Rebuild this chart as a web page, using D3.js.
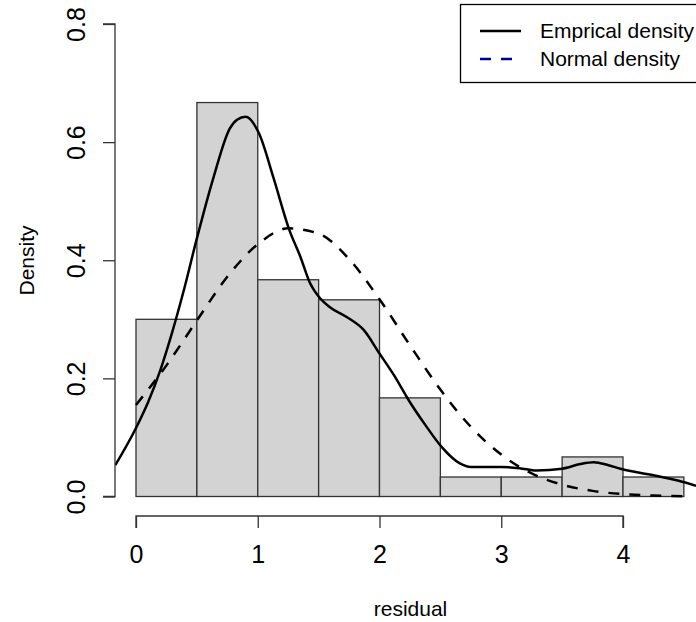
<!DOCTYPE html>
<html>
<head>
<meta charset="utf-8">
<script src="https://d3js.org/d3.v7.min.js"></script>
<style>
  body { margin: 0; background: #fff; }
  text { font-family: "Liberation Sans", Arial, sans-serif; }
</style>
</head>
<body>
<div id="main"></div>
<script>
// histogram bins (residual) and their densities
const binEdges = [0, 0.5, 1, 1.5, 2, 2.5, 3, 3.5, 4, 4.5];
const binDensity = [0.300, 0.667, 0.367, 0.333, 0.167, 0.033, 0.033, 0.067, 0.033];

const empX = [-0.17, 0, 0.1, 0.2, 0.3, 0.39, 0.5, 0.635, 0.77, 0.83, 0.9, 1.01, 1.13, 1.26, 1.35, 1.43, 1.51, 1.59, 1.73, 1.87, 2.0, 2.12, 2.24, 2.38, 2.51, 2.66, 2.75, 3.0, 3.15, 3.29, 3.5, 3.65, 3.76, 3.88, 3.98, 4.25, 4.45, 4.6];
const empY = [0.053, 0.116, 0.16, 0.214, 0.28, 0.347, 0.437, 0.539, 0.623, 0.638, 0.643, 0.615, 0.539, 0.451, 0.406, 0.361, 0.336, 0.321, 0.304, 0.282, 0.242, 0.205, 0.163, 0.12, 0.084, 0.056, 0.050, 0.050, 0.048, 0.044, 0.047, 0.055, 0.058, 0.053, 0.047, 0.036, 0.027, 0.018];

// normal density curve
const normX = [0, 0.25, 0.5, 0.75, 1, 1.25, 1.5, 1.75, 2, 2.25, 2.5, 2.75, 3, 3.25, 3.5, 3.75, 4, 4.25, 4.5];
const normY = [0.155, 0.222, 0.298, 0.372, 0.427, 0.454, 0.445, 0.402, 0.334, 0.256, 0.181, 0.118, 0.071, 0.039, 0.020, 0.0095, 0.004, 0.0016, 0.0006];

const xTicks = [0, 1, 2, 3, 4];
const yTicks = [0, 0.2, 0.4, 0.6, 0.8];
const yTickLabels = ["0.0", "0.2", "0.4", "0.6", "0.8"];
const legendLabels = ["Emprical density", "Normal density"];

const ctx = {width: 696,
  height: 622,
  left: 115, right: 706, top: 5, bottom: 516,
  fontSize: 21,
  tickFontSize: 25
};

function createViz(){
  let svg = d3.select("#main")
    .append("svg")
    .attr("width", ctx.width)
    .attr("height", ctx.height);

  let x = d3.scaleLinear().domain([0, 4]).range([136, 623]);
  let y = d3.scaleLinear().domain([0, 0.8]).range([496.5, 24]);

  svg.append("clipPath").attr("id", "plotClip")
    .append("rect")
    .attr("x", ctx.left).attr("y", ctx.top)
    .attr("width", ctx.right - ctx.left).attr("height", ctx.bottom - ctx.top);

  // bars
  svg.append("g")
    .selectAll("rect")
    .data(binDensity)
    .enter().append("rect")
    .attr("x", (d, i) => x(binEdges[i]))
    .attr("y", d => y(d))
    .attr("width", (d, i) => x(binEdges[i + 1]) - x(binEdges[i]))
    .attr("height", d => y(0) - y(d))
    .attr("fill", "#d3d3d3")
    .attr("stroke", "#333")
    .attr("stroke-width", 1.3);

  let plot = svg.append("g").attr("clip-path", "url(#plotClip)");

  let empLine = d3.line()
    .x(i => x(empX[i]))
    .y(i => y(empY[i]))
    .curve(d3.curveMonotoneX);
  plot.append("path")
    .attr("d", empLine(d3.range(empX.length)))
    .attr("fill", "none")
    .attr("stroke", "#000")
    .attr("stroke-width", 2.5);

  let normLine = d3.line()
    .x(i => x(normX[i]))
    .y(i => y(normY[i]))
    .curve(d3.curveMonotoneX);
  plot.append("path")
    .attr("d", normLine(d3.range(normX.length)))
    .attr("fill", "none")
    .attr("stroke", "#000")
    .attr("stroke-width", 2.5)
    .attr("stroke-dasharray", "11,10");

  // axes, R style (detached from the plot box)
  let xAxis = svg.append("g").attr("transform", "translate(0," + ctx.bottom + ")")
    .call(d3.axisBottom(x).tickValues(xTicks).tickSize(12).tickFormat(d3.format("d")));
  xAxis.select(".domain").attr("d", "M" + x(0) + ",12V0H" + x(4) + "V12");
  xAxis.selectAll("text").attr("font-size", ctx.tickFontSize).attr("font-family", null)
    .attr("dy", null).attr("y", 47).attr("fill", "#000");

  let yAxis = svg.append("g").attr("transform", "translate(" + ctx.left + ",0)")
    .call(d3.axisLeft(y).tickValues(yTicks).tickSize(12).tickFormat((d, i) => yTickLabels[i]));
  yAxis.select(".domain").attr("d", "M-12," + y(0) + "H0V" + y(0.8) + "H-12");
  yAxis.selectAll(".tick text")
    .attr("font-size", ctx.tickFontSize).attr("font-family", null)
    .attr("x", null).attr("dy", null).attr("y", -30)
    .attr("transform", "rotate(-90)")
    .attr("text-anchor", "middle").attr("fill", "#000");
  svg.selectAll(".domain, .tick line").attr("stroke", "#333").attr("stroke-width", 1.3);

  // axis titles
  svg.append("text")
    .attr("x", (ctx.left + ctx.right) / 2).attr("y", 616)
    .attr("text-anchor", "middle").attr("font-size", ctx.fontSize)
    .text("residual");
  svg.append("text")
    .attr("transform", "translate(34," + (ctx.top + ctx.bottom) / 2 + ") rotate(-90)")
    .attr("text-anchor", "middle").attr("font-size", ctx.fontSize)
    .text("Density");

  // legend
  let legend = svg.append("g");
  legend.append("rect")
    .attr("x", 460.5).attr("y", 4.5).attr("width", 250).attr("height", 78)
    .attr("fill", "#fff").attr("stroke", "#000").attr("stroke-width", 1.3);
  let rows = legend.selectAll(".row")
    .data(legendLabels)
    .enter().append("g")
    .attr("transform", (d, i) => "translate(0," + (31 + i * 28) + ")");
  rows.append("line")
    .attr("x1", 480).attr("x2", 521)
    .attr("stroke", (d, i) => i == 0 ? "#000" : "#00008b")
    .attr("stroke-width", 2.5)
    .attr("stroke-dasharray", (d, i) => i == 0 ? null : "11,10");
  rows.append("text")
    .attr("x", 540).attr("y", 7)
    .attr("font-size", ctx.fontSize)
    .text(d => d);
}

createViz();
</script>
</body>
</html>
